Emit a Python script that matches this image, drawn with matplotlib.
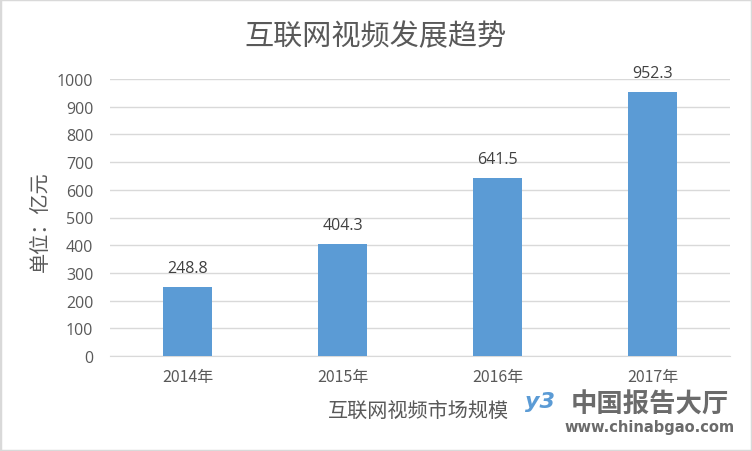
import matplotlib
matplotlib.use("Agg")
import matplotlib.pyplot as plt
from matplotlib.patches import Rectangle

years = ["2014年", "2015年", "2016年", "2017年"]
values = [248.8, 404.3, 641.5, 952.3]
yticks = list(range(0, 1001, 100))

plt.rcParams["font.family"] = ["Open Sans", "Noto Sans CJK SC", "DejaVu Sans"]
cjk = ["Noto Sans CJK SC", "DejaVu Sans"]

fig = plt.figure(figsize=(7.52, 4.52), dpi=100)
ax = fig.add_axes([110 / 752, 1 - 357 / 452, 620 / 752, 277 / 452])

x = range(len(years))
ax.bar(x, values, width=0.32, color="#5B9BD5", zorder=3)
for xi, v in zip(x, values):
    ax.text(xi, v + 40, f"{v:.1f}", ha="center", va="bottom", fontsize=11.5, color="#404040")

ax.set_xlim(-0.5, 3.5)
ax.set_ylim(0, 1000)
ax.set_yticks(yticks)
ax.set_xticks(list(x))
ax.set_xticklabels(years, family=cjk)
ax.tick_params(axis="both", length=0, labelsize=11.5, colors="#595959")
ax.tick_params(axis="y", pad=12)
ax.tick_params(axis="x", pad=9)
ax.grid(axis="y", color="#D9D9D9", lw=1, zorder=0)
for s in ("top", "right", "left"):
    ax.spines[s].set_visible(False)
ax.spines["bottom"].set_color("#D9D9D9")

fig.text(376 / 752, 1 - 37 / 452, "互联网视频发展趋势", ha="center", va="center",
         fontsize=21, color="#595959", family=cjk)
fig.text(40 / 752, 1 - 222 / 452, "单位：亿元", rotation=90, ha="center", va="center",
         fontsize=14.5, color="#595959", family=cjk)
fig.text(419 / 752, 1 - 411 / 452, "互联网视频市场规模", ha="center", va="center",
         fontsize=14.5, color="#595959", family=cjk)

# watermark
fig.text(650 / 752, 1 - 405 / 452, "中国报告大厅", ha="center", va="center",
         fontsize=19, color="#6b6b6b", weight="bold", family=cjk)
fig.text(650 / 752, 1 - 428 / 452, "www.chinabgao.com", ha="center", va="center",
         fontsize=10.5, color="#6b6b6b", weight="bold", family=["DejaVu Sans"])
fig.text(540 / 752, 1 - 402 / 452, "y3", ha="center", va="center",
         fontsize=16, color="#5B9BD5", style="italic", weight="bold", family=["DejaVu Sans"])

fig.patches.append(Rectangle((0, 0), 1, 1, transform=fig.transFigure, fill=False,
                             edgecolor="#D9D9D9", lw=2.5))

fig.savefig("out.png", dpi=100)
